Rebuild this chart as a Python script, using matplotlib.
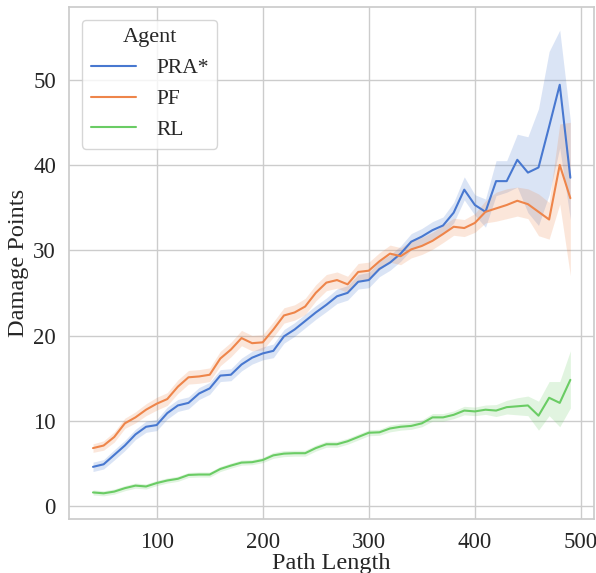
import numpy as np
import matplotlib
matplotlib.use("Agg")
import matplotlib.pyplot as plt
import seaborn as sns

path_length = list(range(40, 500, 10))

pra_mean = [4.6, 4.9, 6.0, 7.1, 8.4, 9.3, 9.5, 10.9, 11.8, 12.1,
            13.2, 13.8, 15.3, 15.4, 16.6, 17.4, 17.9, 18.2, 19.9, 20.7,
            21.7, 22.7, 23.6, 24.6, 25.0, 26.3, 26.5, 27.8, 28.55, 29.6,
            31.0, 31.6, 32.35, 32.9, 34.4, 37.1, 35.3, 34.5, 38.1, 38.1,
            40.6, 39.1, 39.7, 44.5, 49.4, 38.5]
pra_err_lo = [0.55, 0.55, 0.6, 0.6, 0.6, 0.65, 0.65, 0.7, 0.7, 0.7,
              0.7, 0.7, 0.7, 0.7, 0.75, 0.75, 0.75, 0.8, 0.8, 0.8,
              0.8, 0.8, 0.8, 0.85, 0.85, 0.85, 0.9, 0.9, 0.9, 0.9,
              0.95, 0.95, 1.0, 1.0, 1.2, 1.2, 1.2, 1.8, 1.7, 1.3,
              3.2, 4.7, 6.8, 8.0, 7.4, 4.9]
pra_err_hi = [0.55, 0.55, 0.6, 0.6, 0.6, 0.65, 0.65, 0.7, 0.7, 0.7,
              0.7, 0.7, 0.7, 0.7, 0.75, 0.75, 0.75, 0.8, 0.8, 0.8,
              0.8, 0.8, 0.8, 0.85, 0.85, 0.85, 0.9, 0.9, 0.9, 0.9,
              0.95, 0.95, 1.0, 1.0, 1.2, 1.5, 1.2, 1.5, 2.4, 2.4,
              3.0, 4.2, 6.9, 8.8, 6.4, 6.7]

pf_mean = [6.8, 7.1, 8.1, 9.7, 10.4, 11.3, 12.0, 12.55, 14.0, 15.1,
           15.2, 15.4, 17.3, 18.35, 19.7, 19.1, 19.2, 20.7, 22.35, 22.7,
           23.4, 25.0, 26.2, 26.5, 26.0, 27.45, 27.6, 28.7, 29.6, 29.3,
           30.1, 30.5, 31.1, 31.9, 32.75, 32.6, 33.2, 34.5, 34.9, 35.3,
           35.8, 35.4, 34.5, 33.6, 40.0, 36.1]
pf_err_lo = [0.5, 0.55, 0.6, 0.6, 0.65, 0.7, 0.75, 0.75, 0.8, 0.8,
             0.8, 0.8, 0.85, 0.85, 0.9, 0.9, 0.9, 0.9, 0.9, 0.9,
             0.95, 0.95, 0.95, 0.95, 0.95, 1.0, 1.0, 1.0, 1.0, 1.0,
             1.0, 1.0, 1.0, 1.0, 1.0, 1.0, 1.1, 1.3, 1.5, 1.6,
             1.8, 1.7, 2.8, 2.3, 4.6, 9.1]
pf_err_hi = [0.5, 0.55, 0.6, 0.6, 0.65, 0.7, 0.75, 0.75, 0.8, 0.8,
             0.8, 0.8, 0.85, 0.85, 0.9, 0.9, 0.9, 0.9, 0.9, 0.9,
             0.95, 0.95, 0.95, 0.95, 0.95, 1.0, 1.0, 1.0, 1.0, 1.0,
             1.0, 1.0, 1.0, 1.0, 1.0, 1.0, 1.1, 1.3, 1.9, 1.9,
             1.6, 1.8, 2.1, 2.0, 4.8, 8.9]

rl_mean = [1.6, 1.5, 1.7, 2.1, 2.4, 2.3, 2.7, 3.0, 3.2, 3.65,
           3.7, 3.7, 4.35, 4.75, 5.1, 5.15, 5.4, 5.95, 6.15, 6.2,
           6.2, 6.8, 7.25, 7.25, 7.6, 8.1, 8.6, 8.65, 9.1, 9.3,
           9.4, 9.7, 10.4, 10.4, 10.7, 11.2, 11.1, 11.3, 11.2, 11.6,
           11.7, 11.8, 10.6, 12.7, 12.1, 14.8]
rl_err_lo = [0.3, 0.3, 0.3, 0.3, 0.3, 0.3, 0.3, 0.3, 0.3, 0.3,
             0.3, 0.3, 0.3, 0.3, 0.3, 0.3, 0.3, 0.35, 0.35, 0.35,
             0.35, 0.35, 0.35, 0.35, 0.35, 0.35, 0.35, 0.35, 0.4, 0.4,
             0.4, 0.4, 0.45, 0.45, 0.45, 0.5, 0.5, 0.55, 0.7, 0.8,
             1.0, 1.2, 1.7, 2.1, 2.8, 3.3]
rl_err_hi = [0.3, 0.3, 0.3, 0.3, 0.3, 0.3, 0.3, 0.3, 0.3, 0.3,
             0.3, 0.3, 0.3, 0.3, 0.3, 0.3, 0.3, 0.35, 0.35, 0.35,
             0.35, 0.35, 0.35, 0.35, 0.35, 0.35, 0.35, 0.35, 0.4, 0.4,
             0.4, 0.4, 0.45, 0.45, 0.45, 0.5, 0.5, 0.55, 0.7, 0.8,
             1.0, 1.1, 1.7, 1.9, 2.5, 3.4]

agents = ["PRA*", "PF", "RL"]

sns.set_theme(style="whitegrid", palette="muted")
plt.rcParams['font.family'] = ['Liberation Serif', 'DejaVu Serif']

fig = plt.figure(figsize=(5.96, 5.73), dpi=100)
ax = fig.add_axes([0.116, 0.094, 0.881, 0.894])

colors = sns.color_palette("muted")
series = [(pra_mean, pra_err_lo, pra_err_hi),
          (pf_mean, pf_err_lo, pf_err_hi),
          (rl_mean, rl_err_lo, rl_err_hi)]
x = np.array(path_length)
for i, (name, (m, lo, hi)) in enumerate(zip(agents, series)):
    m = np.array(m)
    ax.fill_between(x, m - np.array(lo), m + np.array(hi), color=colors[i], alpha=0.2, linewidth=0)
    ax.plot(x, m, color=colors[i], linewidth=1.5, label=name)

ax.set_xlabel("Path Length", fontsize=17.5, labelpad=0)
ax.set_ylabel("Damage Points", fontsize=17.5, labelpad=3)
ax.tick_params(axis='both', labelsize=16.5)
ax.set_xticks([100, 200, 300, 400, 500])
ax.set_yticks([0, 10, 20, 30, 40, 50])
leg = ax.legend(title="Agent", loc="upper left", fontsize=15.5, title_fontsize=16,
                handletextpad=0.95, handlelength=2.1, borderaxespad=0.6)

fig.savefig("out.png", dpi=100)
